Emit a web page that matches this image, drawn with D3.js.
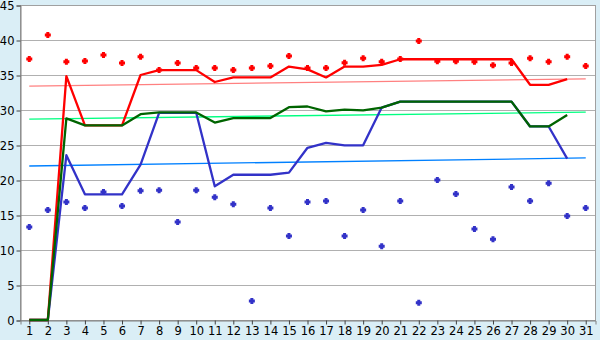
<!DOCTYPE html>
<html>
<head>
<meta charset="utf-8">
<script src="https://cdn.jsdelivr.net/npm/d3@7"></script>
<style>
  body { margin: 0; background: #daeef6; }
  svg { display: block; }
</style>
</head>
<body>
<div id="chart"></div>
<script>
// categories (days)
var days = d3.range(1, 32);

// scatter points
var redDots  = [37.3, 40.7, 36.9, 37.0, 37.85, 36.7, 37.6, 35.7, 36.7, 36.0,
                36.0, 35.7, 36.0, 36.3, 37.7, 36.0, 36.0, 36.75, 37.4, 36.9,
                37.3, 39.85, 36.95, 36.95, 36.9, 36.4, 36.7, 37.4, 36.9, 37.6, 36.3];
var blueDots = [13.3, 15.7, 16.85, 16.0, 18.3, 16.3, 18.45, 18.55, 14.0, 18.55,
                17.55, 16.55, 2.7, 16.0, 12.0, 16.85, 17.0, 12.0, 15.7, 10.55,
                17.0, 2.45, 20.0, 18.0, 13.0, 11.55, 19.0, 17.0, 19.55, 14.85, 16.0];

// lines (day 31 has no value)
var redLine   = [0, 0, 34.85, 27.8, 27.8, 27.8, 35.0, 35.7, 35.7, 35.7,
                 34.0, 34.65, 34.65, 34.65, 36.2, 35.8, 34.65, 36.2, 36.2, 36.45,
                 37.25, 37.25, 37.25, 37.25, 37.25, 37.25, 37.25, 33.6, 33.6, 34.4, null];
var greenLine = [0, 0, 28.8, 27.8, 27.8, 27.8, 29.4, 29.65, 29.65, 29.65,
                 28.2, 28.85, 28.85, 28.85, 30.4, 30.5, 29.8, 30.05, 29.95, 30.35,
                 31.2, 31.2, 31.2, 31.2, 31.2, 31.2, 31.2, 27.65, 27.65, 29.3, null];
var blueLine  = [0, 0, 23.55, 17.95, 17.95, 17.95, 22.2, 29.6, 29.6, 29.6,
                 19.1, 20.75, 20.75, 20.75, 21.05, 24.6, 25.3, 24.95, 24.95, 30.35,
                 31.2, 31.2, 31.2, 31.2, 31.2, 31.2, 31.2, 27.65, 27.65, 23.05, null];

// trend line end points (day 1, day 31)
var redTrend   = [33.42, 34.45];
var greenTrend = [28.7, 29.7];
var blueTrend  = [22.0, 23.15];

var yTicks = d3.range(0, 50, 5);

var width = 600, height = 340;
var margin = {top: 5, right: 5, bottom: 20, left: 20};

var svg = d3.select('#chart')
  .append('svg')
  .attr('width', width)
  .attr('height', height);

var x = d3.scaleBand()
  .domain(days)
  .range([margin.left, width - margin.right]);

var y = d3.scaleLinear()
  .domain([0, 45])
  .range([height - margin.bottom, margin.top]);

var cx = d => x(d) + x.bandwidth() / 2;

// plot area
svg.append('rect')
  .attr('x', margin.left + 0.5)
  .attr('y', margin.top + 0.5)
  .attr('width', width - margin.left - margin.right)
  .attr('height', height - margin.top - margin.bottom)
  .attr('fill', '#fff')
  .attr('stroke', '#a0a0a0');

// grid
svg.append('g')
  .selectAll('line')
  .data(yTicks.slice(1, -1))
  .enter()
  .append('line')
  .attr('x1', margin.left)
  .attr('x2', width - margin.right)
  .attr('y1', d => Math.round(y(d)) + 0.5)
  .attr('y2', d => Math.round(y(d)) + 0.5)
  .attr('stroke', '#b0b0b0');

// axes
var yAxis = svg.append('g')
  .attr('transform', `translate(${margin.left + 0.5},0.5)`)
  .call(d3.axisLeft(y).tickValues(yTicks).tickSize(4).tickPadding(2));
yAxis.select('.domain').attr('stroke', '#808080');
yAxis.selectAll('.tick line').attr('stroke', '#404040');

var xAxis = svg.append('g')
  .attr('transform', `translate(0.5,${height - margin.bottom + 0.5})`)
  .call(d3.axisBottom(x).tickSize(4).tickPadding(2));
xAxis.select('.domain').attr('stroke', '#808080');
xAxis.selectAll('.tick line').attr('stroke', '#404040');
svg.selectAll('.tick text')
  .attr('font-size', 11.5)
  .attr('font-family', '"DejaVu Sans", Verdana, sans-serif')
  .attr('fill', '#000');

// trend lines
var trends = [
  {vals: redTrend, color: '#ff8080'},
  {vals: greenTrend, color: '#00ff80'},
  {vals: blueTrend, color: '#0080ff'}
];
svg.append('g')
  .selectAll('line')
  .data(trends)
  .enter()
  .append('line')
  .attr('x1', cx(days[0]))
  .attr('x2', cx(days[days.length - 1]))
  .attr('y1', d => y(d.vals[0]))
  .attr('y2', d => y(d.vals[1]))
  .attr('stroke', d => d.color)
  .attr('stroke-width', 1.3);

// main lines
var line = d3.line()
  .defined(d => d.v != null)
  .x(d => cx(d.day))
  .y(d => y(d.v));

var series = [
  {vals: blueLine, color: '#3232c8'},
  {vals: redLine, color: '#ff0000'},
  {vals: greenLine, color: '#006400'}
];
svg.append('g')
  .selectAll('path')
  .data(series)
  .enter()
  .append('path')
  .attr('d', s => line(days.map((d, i) => ({day: d, v: s.vals[i]}))))
  .attr('fill', 'none')
  .attr('stroke', s => s.color)
  .attr('stroke-width', 2.3)
  .attr('stroke-linejoin', 'round');

// scatter markers: small rounded plus
var markerPath = 'M-1.5,-3h3v1.5h1.5v3h-1.5v1.5h-3v-1.5h-1.5v-3h1.5z';
var dots = [
  {vals: redDots, color: '#ff0000'},
  {vals: blueDots, color: '#3232c8'}
];
dots.forEach(s => {
  svg.append('g')
    .selectAll('path')
    .data(s.vals)
    .enter()
    .append('path')
    .attr('d', markerPath)
    .attr('transform', (d, i) => `translate(${cx(days[i])},${y(d)})`)
    .attr('fill', s.color);
});
</script>
</body>
</html>
